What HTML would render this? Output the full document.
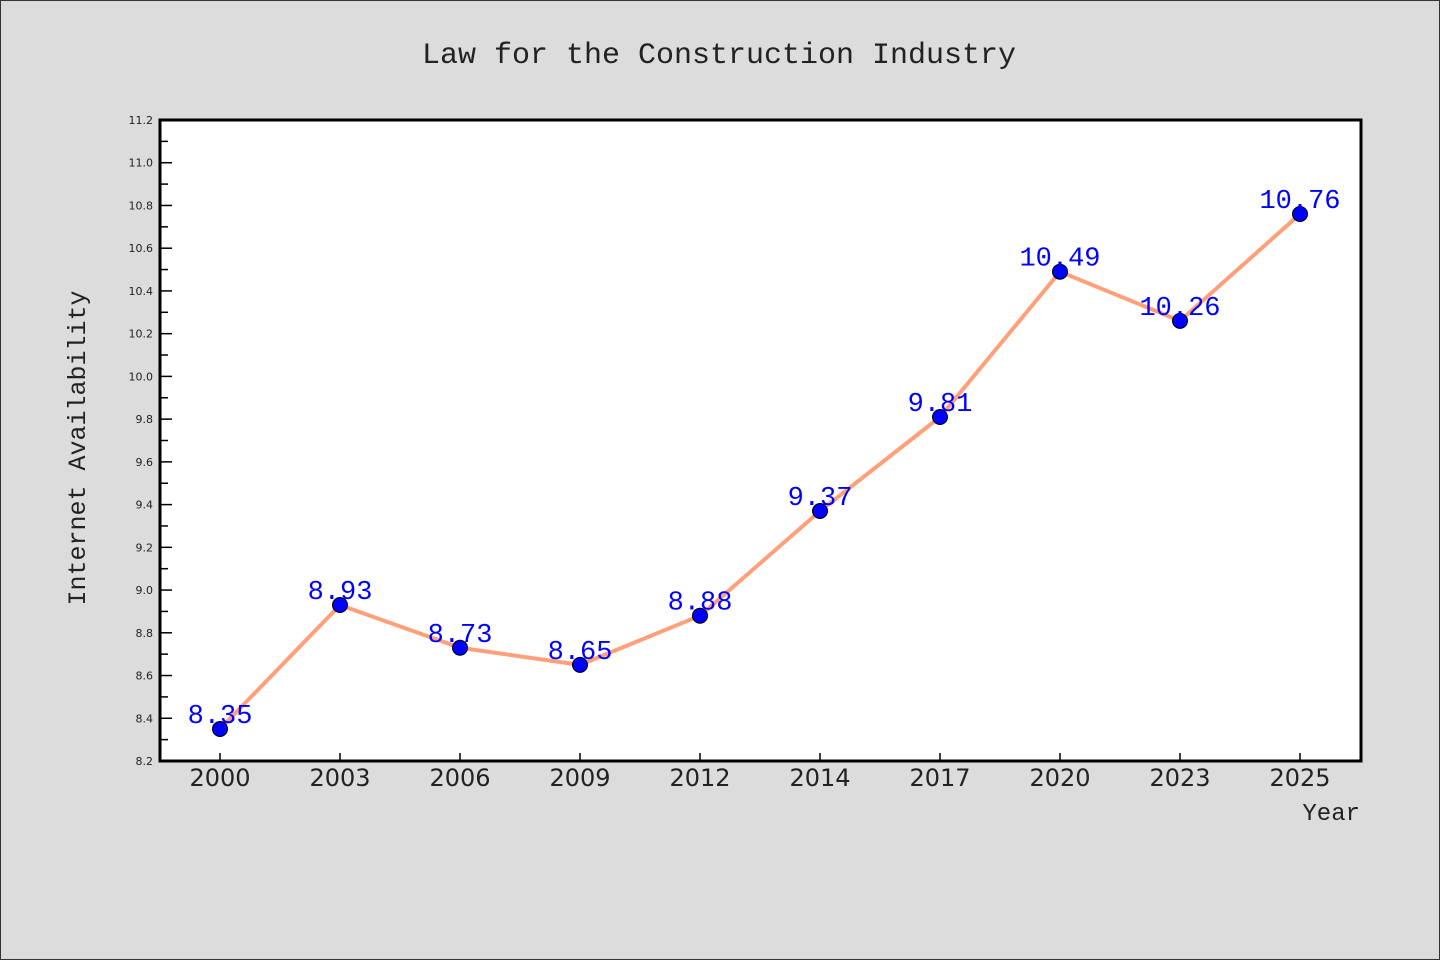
<!DOCTYPE html>
<html><head><meta charset="utf-8"><style>
html,body{margin:0;padding:0;background:#dcdcdc}
svg{display:block}
</style></head><body>
<svg width="1440" height="960" xmlns="http://www.w3.org/2000/svg">
<rect x="0.5" y="0.5" width="1439" height="959" fill="#dcdcdc" stroke="#333"/>
<text x="719" y="63" text-anchor="middle" font-family="Liberation Mono, monospace" font-size="30" fill="#222">Law for the Construction Industry</text>
<rect x="160" y="120" width="1201" height="641" fill="#fff"/>
<g id="axes"></g>
<g id="series"></g>
<rect x="160" y="120" width="1201" height="641" fill="none" stroke="#000" stroke-width="3"/>
<text transform="translate(85,448) rotate(-90)" text-anchor="middle" font-family="Liberation Mono, monospace" font-size="25" fill="#222">Internet Availability</text>
<text x="1360" y="820" text-anchor="end" font-family="Liberation Mono, monospace" font-size="24" fill="#222">Year</text>
</svg>
<script>
const categories = ["2000","2003","2006","2009","2012","2014","2017","2020","2023","2025"];
const values = [8.35,8.93,8.73,8.65,8.88,9.37,9.81,10.49,10.26,10.76];
const yTickLabels = ["8.2","8.4","8.6","8.8","9.0","9.2","9.4","9.6","9.8","10.0","10.2","10.4","10.6","10.8","11.0","11.2"];
const yMin = 8.2, yMax = 11.2;
const NS = "http://www.w3.org/2000/svg";
const X0 = 160, X1 = 1361, Y0 = 761, Y1 = 120;
function xPos(i){ return 220 + i * 120; }
function yPos(v){ return Y0 - (v - yMin) / (yMax - yMin) * (Y0 - Y1); }
function mk(tag, attrs, parent){ const e = document.createElementNS(NS, tag); for (const k in attrs) e.setAttribute(k, attrs[k]); parent.appendChild(e); return e; }
const axes = document.getElementById('axes');
const series = document.getElementById('series');
yTickLabels.forEach(function(t){
  const v = parseFloat(t), y = yPos(v);
  const tk = mk('line', {x1: X0, x2: X0 + 12, y1: y, y2: y, stroke: '#000', 'stroke-width': 1.5}, axes);
  
  
  const lb = mk('text', {x: 153, y: y + 4, 'text-anchor': 'end', 'font-family': 'DejaVu Sans, sans-serif', 'font-size': 11, fill: '#222'}, axes);
  lb.textContent = t;
  
  
  if (v + 0.1 < yMax) {
    const ym = yPos(v + 0.1);
    const mn = mk('line', {x1: X0, x2: X0 + 8, y1: ym, y2: ym, stroke: '#000', 'stroke-width': 1.5}, axes);
    
    
  }
});
categories.forEach(function(c, i){
  const x = xPos(i);
  const tk = mk('line', {x1: x, x2: x, y1: Y0, y2: Y0 - 8, stroke: '#000', 'stroke-width': 1.5}, axes);
  
  
  const lb = mk('text', {x: x, y: 786, 'text-anchor': 'middle', 'font-family': 'DejaVu Sans, sans-serif', 'font-size': 24, fill: '#222'}, axes);
  lb.textContent = c;
  
  
});
const pts = values.map(function(v, i){ return xPos(i) + ',' + yPos(v); }).join(' ');
const line = mk('polyline', {points: pts, fill: 'none', stroke: '#ffa07a', 'stroke-width': 4, 'stroke-linejoin': 'round'}, series);


values.forEach(function(v, i){
  const x = xPos(i), y = yPos(v);
  const c = mk('circle', {cx: x, cy: y, r: 7.5, fill: '#0000ff', stroke: '#000', 'stroke-width': 1}, series);
  
  
  const t = mk('text', {x: x, y: y - 6, 'text-anchor': 'middle', 'font-family': 'Liberation Mono, monospace', 'font-size': 27, fill: '#0000ff'}, series);
  t.textContent = v.toFixed(2);
  
  
});
</script>
</body></html>
